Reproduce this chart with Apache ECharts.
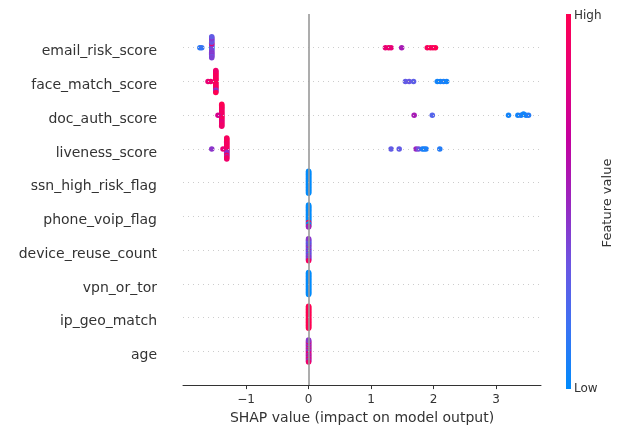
<!DOCTYPE html>
<html><head><meta charset="utf-8">
<script src="https://cdn.jsdelivr.net/npm/echarts@6/dist/echarts.min.js"></script>
<style>html,body{margin:0;padding:0;background:#fff}#c{width:618px;height:430px}</style>
</head><body><div id="c"></div>
<script>
// ---- data ----
const features = ['email_risk_score','face_match_score','doc_auth_score','liveness_score','ssn_high_risk_flag','phone_voip_flag','device_reuse_count','vpn_or_tor','ip_geo_match','age'];
const xTickValues = [-1, 0, 1, 2, 3];
const xAxisTitle = 'SHAP value (impact on model output)';
const colorbarTitle = 'Feature value';
const colorbarLabels = ['High', 'Low'];

// SHAP values per sample (30 samples) and normalized feature values (0 = low, 1 = high)
const email_risk_score_shap = [-1.55,-1.55,-1.55,-1.55,-1.55,-1.55,-1.55,-1.55,-1.55,-1.55,-1.55,-1.55,-1.55,-1.55,-1.55,-1.55,-1.55,-1.55,-1.55,-1.55,-1.74,-1.71,1.23,1.28,1.32,1.49,1.90,1.95,1.99,2.03];
const email_risk_score_value = [0.1,0.1,0.12,0.4,0.35,0.45,0.4,0.9,0.4,0.3,0.45,0.35,0.4,0.3,0.45,0.4,0.35,0.45,0.4,0.3,0.12,0.15,0.85,0.9,0.85,0.55,0.95,1,0.95,1];

const face_match_score_shap = [-1.485,-1.485,-1.485,-1.485,-1.485,-1.485,-1.485,-1.485,-1.485,-1.485,-1.485,-1.485,-1.485,-1.485,-1.485,-1.485,-1.485,-1.485,-1.485,-1.485,-1.485,-1.61,-1.565,1.55,1.61,1.68,2.06,2.11,2.16,2.21];
const face_match_score_value = [0.95,1,0.9,0.95,1,0.9,0.95,1,0.9,0.95,1,0.9,0.95,1,0.9,0.95,0.45,0.95,0.5,0.9,1,0.85,0.9,0.3,0.32,0.28,0.05,0.05,0.08,0.05];

const doc_auth_score_shap = [-1.39,-1.39,-1.39,-1.39,-1.39,-1.39,-1.39,-1.39,-1.39,-1.39,-1.39,-1.39,-1.39,-1.39,-1.39,-1.39,-1.39,-1.39,-1.39,-1.39,-1.39,-1.45,1.69,1.98,3.20,3.35,3.40,3.44,3.48,3.52];
const doc_auth_score_value = [0.9,0.95,1,0.85,0.9,0.95,1,0.9,0.85,0.95,1,0.9,0.8,0.95,0.9,1,0.85,0.9,0.95,1,0.9,0.75,0.55,0.25,0.05,0.05,0.08,0.05,0.05,0.1];

const liveness_score_shap = [-1.31,-1.31,-1.31,-1.31,-1.31,-1.31,-1.31,-1.31,-1.31,-1.31,-1.31,-1.31,-1.31,-1.31,-1.31,-1.31,-1.31,-1.31,-1.31,-1.31,-1.55,-1.37,1.32,1.45,1.72,1.76,1.82,1.85,1.88,2.10];
const liveness_score_value = [0.9,0.5,0.6,1,0.9,0.95,0.5,0.9,0.45,1,0.55,0.9,1,0.95,0.5,0.9,0.95,1,0.9,0.95,0.45,0.85,0.3,0.3,0.5,0.35,0.1,0.05,0.08,0.1];

const ssn_high_risk_flag_shap = [0,0,0,0,0,0,0,0,0,0,0,0,0,0,0,0,0,0,0,0,0,0,0,0,0,0,0,0,0,0];
const ssn_high_risk_flag_value = [0,0,0,0,0,0,0,0,0,0,0,0,0,0,0,0,0,0,0,0,0,0,0,0,0,0,0,0,0,0];

const phone_voip_flag_shap = [0,0,0,0,0,0,0,0,0,0,0,0,0,0,0,0,0,0,0,0,0,0,0,0,0,0,0,0,0,0];
const phone_voip_flag_value = [0,0,0,0,0,0,0,0,0,0,0,0,0,0,0,0,1,0,1,0,0,0,0,0,0,0,1,0,0.5,0];

const device_reuse_count_shap = [0,0,0,0,0,0,0,0,0,0,0,0,0,0,0,0,0,0,0,0,0,0,0,0,0,0,0,0,0,0];
const device_reuse_count_value = [0.3,0.5,0.1,0.45,0.35,0.6,0.3,0.1,0.5,0.4,0.35,0.55,0.1,0.3,0.45,0.6,0.35,0.1,0.5,0.4,0.3,0.45,0.55,0.1,0.35,0.4,0.5,0.3,0.95,0.45];

const vpn_or_tor_shap = [0,0,0,0,0,0,0,0,0,0,0,0,0,0,0,0,0,0,0,0,0,0,0,0,0,0,0,0,0,0];
const vpn_or_tor_value = [0,0,0,0,0,0,0,0,0,0,0,0,0,0,0,0,0,0,0,0,0,0,0,0,0,0,0,0,0,0];

const ip_geo_match_shap = [0,0,0,0,0,0,0,0,0,0,0,0,0,0,0,0,0,0,0,0,0,0,0,0,0,0,0,0,0,0];
const ip_geo_match_value = [1,1,1,1,1,1,1,1,1,1,1,1,1,1,1,1,1,1,1,1,1,1,1,1,1,1,1,1,1,1];

const age_shap = [0,0,0,0,0,0,0,0,0,0,0,0,0,0,0,0,0,0,0,0,0,0,0,0,0,0,0,0,0,0];
const age_value = [0.9,0.5,0.4,0.95,0.6,0.45,0.9,0.5,0.85,0.4,0.55,1,0.45,0.5,0.9,0.4,0.6,0.95,0.45,0.5,0.85,0.4,0.9,0.55,0.45,1,0.5,0.4,0.9,0.45];

const shapByFeature = {
  email_risk_score: [email_risk_score_shap, email_risk_score_value],
  face_match_score: [face_match_score_shap, face_match_score_value],
  doc_auth_score: [doc_auth_score_shap, doc_auth_score_value],
  liveness_score: [liveness_score_shap, liveness_score_value],
  ssn_high_risk_flag: [ssn_high_risk_flag_shap, ssn_high_risk_flag_value],
  phone_voip_flag: [phone_voip_flag_shap, phone_voip_flag_value],
  device_reuse_count: [device_reuse_count_shap, device_reuse_count_value],
  vpn_or_tor: [vpn_or_tor_shap, vpn_or_tor_value],
  ip_geo_match: [ip_geo_match_shap, ip_geo_match_value],
  age: [age_shap, age_value]
};

// ---- beeswarm layout (same as shap's summary plot) ----
function beeswarm(shaps) {
  const N = shaps.length, nbins = 100, rowHeight = 0.4;
  const mn = Math.min(...shaps), mx = Math.max(...shaps);
  const quant = shaps.map(s => Math.round(nbins * (s - mn) / (mx - mn + 1e-8)));
  const inds = [...Array(N).keys()].sort((a, b) => (quant[a] - quant[b]) || (a - b));
  const ys = new Array(N).fill(0);
  let layer = 0, last = -1;
  for (const i of inds) {
    if (quant[i] !== last) layer = 0;
    ys[i] = Math.ceil(layer / 2) * ((layer % 2) * 2 - 1);
    layer++; last = quant[i];
  }
  const m = Math.max(...ys.map(y => y + 1));
  return ys.map(y => y * 0.9 * (rowHeight / m));
}

const XMIN = -2.01, XMAX = 3.72;
const cmap = ['#008bfb', '#3c72f3', '#6c55e2', '#9a26bf', '#c4009e', '#e6007a', '#ff0052'];
const nF = features.length;
const series = [];
// dotted row guide lines
series.push({
  type: 'scatter', data: [], z: 1, silent: true,
  markLine: {
    silent: true, symbol: ['none', 'none'], label: { show: false }, animation: false,
    lineStyle: { color: '#cccccc', width: 1, type: [1, 4] },
    emphasis: { disabled: true },
    data: features.map((f, i) => [
      { coord: [XMIN, nF - 1 - i] },
      { coord: [XMAX, nF - 1 - i] }
    ])
  }
});
// zero line
series.push({
  type: 'scatter', data: [], z: 2, silent: true,
  markLine: {
    silent: true, symbol: ['none', 'none'], label: { show: false }, animation: false,
    lineStyle: { color: '#999999', width: 1.6, type: 'solid' },
    emphasis: { disabled: true },
    data: [[{ coord: [0, -1] }, { coord: [0, nF] }]]
  }
});
const firstDataSeries = series.length;
features.forEach((f, i) => {
  const [sh, val] = shapByFeature[f];
  const ys = beeswarm(sh);
  const pos = nF - 1 - i;
  series.push({
    type: 'scatter', name: f, z: 3, symbolSize: 5.5,
    data: sh.map((s, k) => [s, pos + ys[k], val[k]]),
    itemStyle: { opacity: 1 }
  });
});

const chart = echarts.init(document.getElementById('c'), null, { renderer: 'canvas' });
chart.setOption({
  animation: false,
  backgroundColor: '#fff',
  textStyle: { fontFamily: 'DejaVu Sans' },
  grid: { left: 183, right: 77, top: 14, bottom: 40 },
  xAxis: {
    type: 'value', min: XMIN, max: XMAX,
    splitLine: { show: false },
    axisLine: { onZero: false, lineStyle: { color: '#333', width: 1 } },
    axisTick: { customValues: xTickValues, length: 4, lineStyle: { color: '#333' } },
    axisLabel: { customValues: xTickValues, color: '#333', fontSize: 12, margin: 9, fontFamily: 'DejaVu Sans',
      formatter: v => v < 0 ? '\u2212' + Math.abs(v) : String(v) },
    name: xAxisTitle, nameLocation: 'middle', nameGap: 23,
    nameTextStyle: { color: '#333', fontSize: 14, fontFamily: 'DejaVu Sans' }
  },
  yAxis: {
    type: 'value', min: -1, max: nF,
    splitLine: { show: false },
    axisLine: { show: false }, axisTick: { show: false },
    axisLabel: {
      customValues: features.map((f, i) => nF - 1 - i),
      color: '#333', fontSize: 14, margin: 26, fontFamily: 'DejaVu Sans',
      verticalAlign: 'top', lineHeight: 8,
      formatter: v => features[nF - 1 - Math.round(v)] || ''
    }
  },
  visualMap: {
    show: false, type: 'continuous', min: 0, max: 1, dimension: 2,
    seriesIndex: features.map((f, i) => i + firstDataSeries),
    inRange: { color: cmap }
  },
  graphic: [
    { type: 'rect', shape: { x: 566, y: 14, width: 5, height: 375 }, silent: true,
      style: { fill: new echarts.graphic.LinearGradient(0, 0, 0, 1,
        cmap.slice().reverse().map((c, k) => ({ offset: k / (cmap.length - 1), color: c }))) } },
    { type: 'text', x: 574, y: 16, silent: true,
      style: { text: colorbarLabels[0], fill: '#333', font: '12px "DejaVu Sans"', verticalAlign: 'middle', align: 'left' } },
    { type: 'text', x: 574, y: 389, silent: true,
      style: { text: colorbarLabels[1], fill: '#333', font: '12px "DejaVu Sans"', verticalAlign: 'middle', align: 'left' } },
    { type: 'text', x: 608, y: 203, rotation: Math.PI / 2, silent: true,
      style: { text: colorbarTitle, fill: '#333', font: '13px "DejaVu Sans"', verticalAlign: 'middle', align: 'center' } }
  ],
  series: series
});
</script>
</body></html>
